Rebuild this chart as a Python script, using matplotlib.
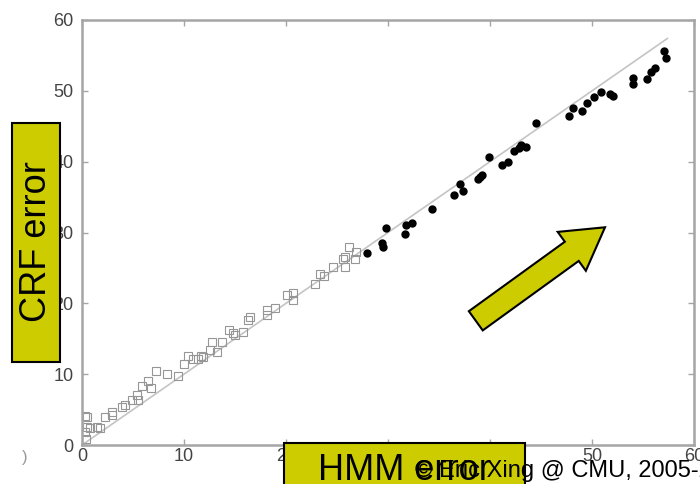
import matplotlib
matplotlib.use('Agg')
import matplotlib.pyplot as plt
import matplotlib.patches as mpatches
from matplotlib.transforms import IdentityTransform
import numpy as np

plt.rcParams['font.family'] = ['Liberation Sans', 'DejaVu Sans']

# open squares (lower-error region)
sq_x = [0.4, 0.3, 0.5, 0.5, 0.3, 0.8, 1.5, 1.8, 2.3, 2.9, 2.9, 3.9, 4.2, 4.9, 5.4, 5.5,
        5.9, 6.5, 6.8, 7.3, 8.3, 9.4, 10.0, 10.4, 10.9, 11.4, 11.7, 11.9, 12.5, 12.7,
        13.2, 13.7, 14.4, 14.8, 15.0, 15.8, 16.3, 16.5, 18.1, 18.1, 18.9, 20.1, 20.7,
        20.7, 22.8, 23.3, 23.7, 24.6, 25.6, 25.8, 25.8, 26.2, 26.8, 26.9]
sq_y = [0.9, 1.9, 2.6, 3.9, 4.1, 2.4, 2.5, 2.4, 4.0, 4.2, 4.7, 5.3, 5.6, 6.3, 7.1, 6.4,
        8.3, 9.1, 8.0, 10.4, 10.0, 9.7, 11.5, 12.5, 12.1, 12.2, 12.5, 12.4, 13.4, 14.5,
        13.1, 14.6, 16.2, 15.8, 15.5, 16.0, 17.7, 18.1, 19.1, 18.4, 19.3, 21.2, 21.5,
        20.5, 22.7, 24.2, 23.8, 25.2, 26.3, 25.2, 26.6, 28.0, 26.2, 27.3]

# filled dots (higher-error region)
dot_x = [27.9, 29.4, 29.5, 29.8, 31.7, 31.8, 32.4, 34.3, 36.5, 37.1, 37.4, 38.8, 39.0,
         39.2, 39.9, 41.2, 41.8, 42.4, 42.8, 43.0, 43.5, 44.5, 47.7, 48.1, 49.0, 49.5,
         50.2, 50.9, 51.8, 52.1, 54.0, 54.0, 55.4, 55.8, 56.2, 57.1, 57.3]
dot_y = [27.1, 28.5, 28.0, 30.6, 29.8, 31.0, 31.3, 33.3, 35.3, 36.8, 35.8, 37.6, 37.9,
         38.1, 40.6, 39.6, 40.0, 41.5, 41.9, 42.4, 42.1, 45.5, 46.5, 47.6, 47.2, 48.3,
         49.1, 49.9, 49.5, 49.3, 50.9, 51.8, 51.7, 52.7, 53.2, 55.6, 54.7]

diag = [0, 57.4]
ticks = [0, 10, 20, 30, 40, 50, 60]

W, H = 700, 484
fig = plt.figure(figsize=(W / 100, H / 100), dpi=100)
ax = fig.add_axes([82 / W, 1 - 445 / H, (694 - 82) / W, (445 - 20) / H])

ax.plot(diag, diag, color='#c4c4c4', lw=1.2, zorder=1)
ax.plot(sq_x, sq_y, 's', ms=5.5, mfc='none', mec='#969696', mew=0.8, zorder=2)
ax.plot(dot_x, dot_y, 'o', ms=5, color='black', mec='black', zorder=3)

ax.set_xlim(0, 60)
ax.set_ylim(0, 60)
ax.set_xticks(ticks)
ax.set_yticks(ticks)
for s in ax.spines.values():
    s.set_color('#a5a5a5')
    s.set_linewidth(1.8)
ax.tick_params(direction='in', length=4, width=1, color='#a5a5a5',
               top=True, right=True, labelsize=13, labelcolor='#444444')
ax.tick_params(axis='y', pad=6)
ax.tick_params(axis='x', pad=2)

# stray mark at lower left
fig.text(22 / W, 1 - 462 / H, ')', fontsize=12, color='#999999')

# yellow label boxes
yel = '#cccc00'
fig.add_artist(mpatches.Rectangle((12, H - 362), 48, 239, transform=IdentityTransform(),
                                  fc=yel, ec='black', lw=1.5, zorder=10))
fig.text(36.5 / W, 1 - 242 / H, 'CRF error', rotation=90, fontsize=26,
         ha='center', va='center', color='black', zorder=11)

fig.add_artist(mpatches.Rectangle((284, -5), 241, H - 443 + 5, transform=IdentityTransform(),
                                  fc=yel, ec='black', lw=1.5, zorder=10))
fig.text(404 / W, 1 - 480 / H, 'HMM error', fontsize=26,
         ha='center', va='baseline', color='black', zorder=11)

fig.text(415 / W, 1 - 477 / H, '\u00a9 Eric Xing @ CMU, 2005-2011', fontsize=17,
         ha='left', va='baseline', color='black', zorder=12)

# big arrow
arrow = mpatches.FancyArrow(475.8, H - 320.8, 129.2, 93.5, width=23.7, head_width=48,
                            head_length=41, length_includes_head=True,
                            transform=IdentityTransform(), fc=yel, ec='black', lw=1.5,
                            zorder=10)
fig.add_artist(arrow)

fig.savefig('out.png', dpi=100)
